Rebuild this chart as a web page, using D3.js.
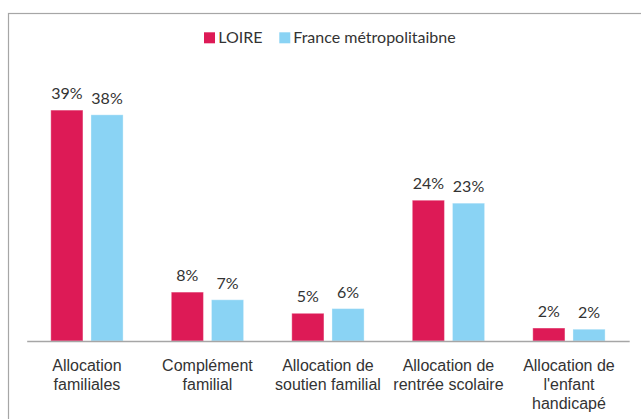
<!DOCTYPE html>
<html>
<head>
<meta charset="utf-8">
<script src="https://cdn.jsdelivr.net/npm/d3@7/dist/d3.min.js"></script>
<style>
  html, body { margin: 0; padding: 0; background: #fff; }
  svg { display: block; font-family: Lato, "Open Sans", sans-serif; }
</style>
</head>
<body>
<svg id="chart" width="641" height="419"></svg>
<script>
const categories = [
  ["Allocation", "familiales"],
  ["Complément", "familial"],
  ["Allocation de", "soutien familial"],
  ["Allocation de", "rentrée scolaire"],
  ["Allocation de", "l'enfant", "handicapé"]
];
const seriesNames = ["LOIRE", "France métropolitaibne"];
const loire  = [39.2, 8.3, 4.7, 23.9, 2.2];
const france = [38.4, 7.0, 5.5, 23.4, 2.0];
const colors = ["#dd1a56", "#8ad3f4"];

const svg = d3.select("#chart");
const baseY = 341;
const pxPerPct = 5.89;
const y = d3.scaleLinear().domain([0, 45]).range([baseY, baseY - 45 * pxPerPct]);
const idx = d3.range(categories.length);
const x0 = d3.scaleBand().domain(idx).range([26.7, 629.2]).paddingInner(0.4).paddingOuter(0.2);
const x1 = d3.scaleBand().domain([0, 1]).range([0, x0.bandwidth()]).paddingInner(0.2);
const textColor = "#333333";

// border
svg.append("rect").attr("x", 8.5).attr("y", 13.5).attr("width", 700).attr("height", 500)
  .attr("fill", "none").attr("stroke", "#a6a6a6").attr("stroke-width", 1.2);

const data = [loire, france];
const g = svg.append("g");
data.forEach((vals, s) => {
  g.selectAll(".bar" + s).data(vals).enter().append("rect")
    .attr("x", (d, i) => x0(i) + x1(s))
    .attr("y", d => y(d))
    .attr("width", x1.bandwidth())
    .attr("height", d => y(0) - y(d))
    .attr("fill", colors[s])
    .attr("stroke", "#fff").attr("stroke-opacity", 0.35).attr("stroke-width", 1);
  g.selectAll(".lab" + s).data(vals).enter().append("text")
    .attr("x", (d, i) => x0(i) + x1(s) + x1.bandwidth() / 2)
    .attr("y", d => y(d) - 11)
    .attr("text-anchor", "middle")
    .attr("font-size", 16)
    .attr("fill", textColor)
    .text(d => Math.round(d) + "%");
});

// axis
const axis = d3.axisBottom(x0).tickSize(0).tickFormat(() => "");
const ax = svg.append("g").attr("transform", `translate(0,${baseY})`).call(axis);
ax.select(".domain").attr("stroke", "#a6a6a6").attr("stroke-width", 1.5);
ax.selectAll(".tick").each(function(d) {
  const t = d3.select(this).append("text")
    .attr("text-anchor", "middle")
    .attr("fill", textColor)
    .attr("font-size", 16);
  categories[d].forEach((line, k) => {
    t.append("tspan").attr("x", 0).attr("y", 29.7 + k * 19.2).text(line);
  });
});

// legend
const leg = svg.append("g");
const legItems = [{x: 204, tx: 218.3}, {x: 279.3, tx: 293.3}];
seriesNames.forEach((n, s) => {
  leg.append("rect").attr("x", legItems[s].x).attr("y", 32.3).attr("width", 11).attr("height", 11).attr("fill", colors[s]);
  leg.append("text").attr("x", legItems[s].tx).attr("y", 43.3).attr("font-size", 16)
    .attr("fill", textColor).text(n);
});
</script>
</body>
</html>
